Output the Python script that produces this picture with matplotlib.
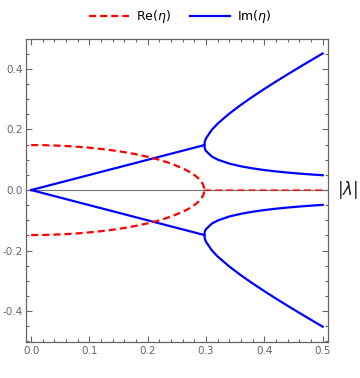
import matplotlib
matplotlib.use("Agg")
import matplotlib.pyplot as plt
from matplotlib.ticker import MultipleLocator

plt.rcParams["axes.unicode_minus"] = False

# Re(eta) branch (mirrored for the lower half)
lam_re = [0.0, 0.02, 0.04, 0.06, 0.08, 0.10, 0.12, 0.14, 0.16, 0.18, 0.20,
          0.22, 0.24, 0.26, 0.27, 0.28, 0.285, 0.29, 0.294, 0.296, 0.297]
re_eta = [0.1485, 0.1482, 0.1471, 0.1454, 0.1430, 0.1398, 0.1358, 0.1310,
          0.1251, 0.1181, 0.1098, 0.0998, 0.0875, 0.0718, 0.0618, 0.0495,
          0.0418, 0.0320, 0.0210, 0.0121, 0.0]
lam_re_zero = [0.297, 0.5]
re_zero = [0.0, 0.0]

# Im(eta) before the split (straight line)
lam_im_lin = [0.0, 0.297]
im_lin = [0.0, 0.1485]

# Im(eta) after the split
lam_im = [0.297, 0.2975, 0.298, 0.299, 0.30, 0.31, 0.32, 0.34, 0.36, 0.38,
          0.40, 0.42, 0.44, 0.46, 0.48, 0.50]
im_upper = [0.1485, 0.1560, 0.1613, 0.1670, 0.1712, 0.1994, 0.2196, 0.2528,
            0.2817, 0.3085, 0.3340, 0.3585, 0.3823, 0.4056, 0.4285, 0.4511]
im_lower = [0.1485, 0.1410, 0.1367, 0.1315, 0.1288, 0.1106, 0.1004, 0.0872,
            0.0783, 0.0715, 0.0660, 0.0615, 0.0577, 0.0544, 0.0515, 0.0489]

red = "#ff0000"
blue = "#0000ff"
grey = "#666666"

fig = plt.figure(figsize=(3.6, 3.78), dpi=100)
ax = fig.add_axes([0.072, 0.095, 0.839, 0.802])

# zero axis
ax.axhline(0, color="#777777", lw=0.8, zorder=1)

dash = (3.2, 1.8)
for s in (1, -1):
    ax.plot(lam_re, [s * v for v in re_eta], color=red, lw=1.6,
            dashes=dash, zorder=3)
ax.plot(lam_re_zero, re_zero, color=red, lw=1.6, dashes=dash, alpha=0.6, zorder=3)

for s in (1, -1):
    ax.plot(lam_im_lin, [s * v for v in im_lin], color=blue, lw=1.6, zorder=2)
    ax.plot(lam_im, [s * v for v in im_upper], color=blue, lw=1.6, zorder=2)
    ax.plot(lam_im, [s * v for v in im_lower], color=blue, lw=1.6, zorder=2)

ax.set_xlim(-0.009, 0.509)
ax.set_ylim(-0.502, 0.499)

ax.xaxis.set_major_locator(MultipleLocator(0.1))
ax.xaxis.set_minor_locator(MultipleLocator(0.02))
ax.yaxis.set_major_locator(MultipleLocator(0.2))
ax.yaxis.set_minor_locator(MultipleLocator(0.05))
ax.tick_params(which="both", direction="in", top=True, right=True,
               color=grey, labelcolor=grey, labelsize=7.5, width=0.8, pad=2.5)
ax.tick_params(which="major", length=4)
ax.tick_params(which="minor", length=2)
for sp in ax.spines.values():
    sp.set_color(grey)
    sp.set_linewidth(0.9)

fig.text(0.935, 0.497, r"$|\lambda|$", fontsize=12, va="center", ha="left",
         color="#222222")

# legend
h1, = ax.plot([], [], color=red, lw=1.6, dashes=dash)
h2, = ax.plot([], [], color=blue, lw=1.6)
fig.legend([h1, h2], [r"Re($\eta$)", r"Im($\eta$)"], loc="upper center",
           bbox_to_anchor=(0.5, 1.008), ncol=2, frameon=False, fontsize=9,
           handlelength=3.2, columnspacing=1.5, handletextpad=0.6)

fig.savefig("out.png", dpi=100)
